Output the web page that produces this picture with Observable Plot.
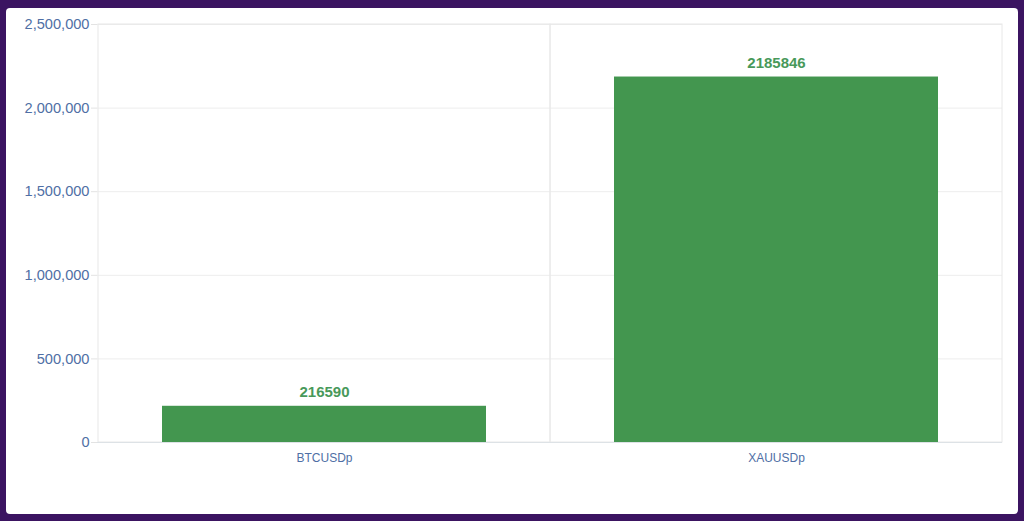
<!DOCTYPE html>
<html>
<head>
<meta charset="utf-8">
<script src="https://cdn.jsdelivr.net/npm/d3@7"></script>
<script src="https://cdn.jsdelivr.net/npm/@observablehq/plot@0.6"></script>
<style>
  html, body { margin: 0; padding: 0; }
  body { background: #3b1461; width: 1024px; height: 521px; overflow: hidden; }
  #card { position: absolute; left: 6px; top: 8px; width: 1012px; height: 506px; background: #ffffff; border-radius: 4px; }
</style>
</head>
<body>
<div id="card"></div>
<script>
const categories = ["BTCUSDp", "XAUUSDp"];
const values = [216590, 2185846];
const yTicks = [0, 500000, 1000000, 1500000, 2000000, 2500000];

const data = categories.map((c, i) => ({category: c, value: values[i]}));
const yMax = yTicks[yTicks.length - 1];

const chart = Plot.plot({
  width: 1012,
  height: 470,
  marginLeft: 91,
  marginRight: 16,
  marginTop: 16,
  marginBottom: 36,
  style: {fontFamily: "'Liberation Sans', Arial, sans-serif", background: "transparent"},
  x: {domain: categories, padding: 0, label: null},
  y: {domain: [0, yMax], label: null},
  marks: [
    Plot.ruleY(yTicks, {stroke: "#ededed"}),
    Plot.barY(categories, {x: d => d, y1: () => 0, y2: () => yMax, fill: "none", stroke: "#e8e8e8"}),
    Plot.barY(data, {x: "category", y: "value", fill: "#43964f", insetLeft: 64, insetRight: 64}),
    Plot.text(data, {x: "category", y: "value", text: d => String(d.value), dy: -14, fill: "#48995a", fontSize: 15, fontWeight: 600}),
    Plot.ruleY([0], {stroke: "#dde2e6"}),
    Plot.axisY({ticks: yTicks, tickFormat: d3.format(","), tickSize: 6, tickPadding: 2, stroke: "#e3e3e3", fill: "#4f6fa5", fontSize: 14.6}),
    Plot.axisX({tickSize: 0, tickPadding: 11, fill: "#4f6fa5", fontSize: 12})
  ]
});
document.getElementById("card").appendChild(chart);
</script>
</body>
</html>
